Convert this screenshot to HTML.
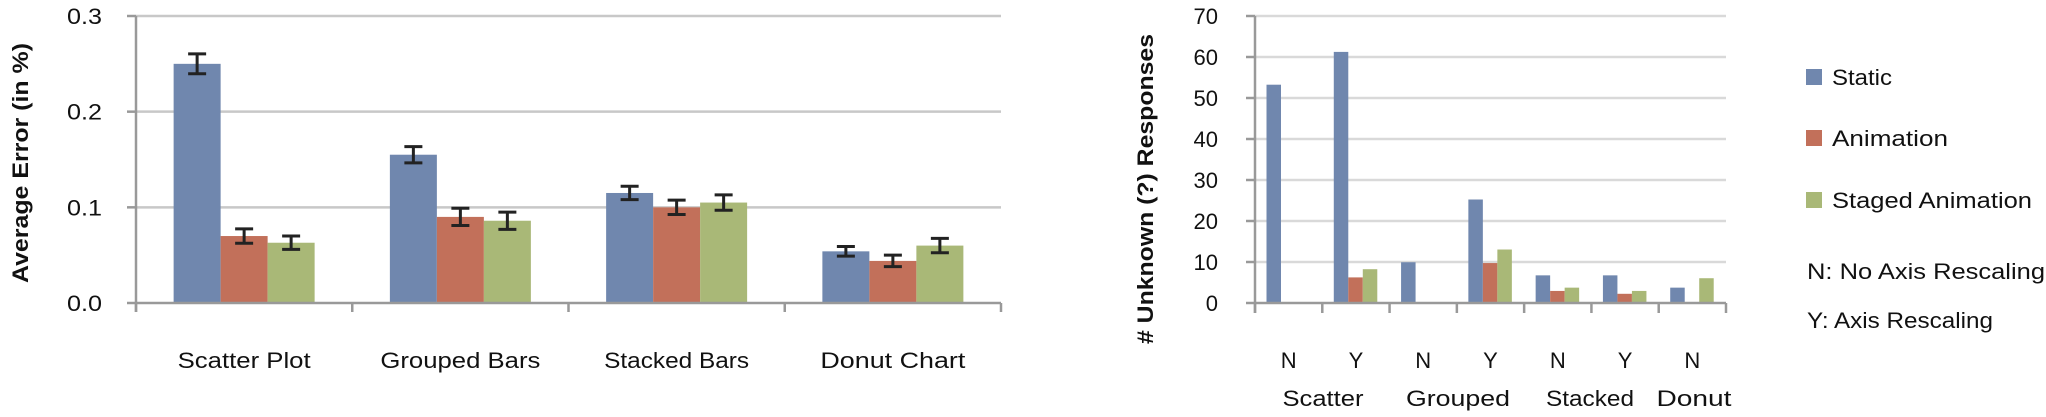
<!DOCTYPE html>
<html><head><meta charset="utf-8"><style>
html,body{margin:0;padding:0;background:#fff;}
svg{display:block;font-family:"Liberation Sans",sans-serif;}
</style></head><body>
<svg id="c" width="2046" height="417" viewBox="0 0 2046 417"></svg>
<script>
// Left chart data
const leftCategories = ["Scatter Plot","Grouped Bars","Stacked Bars","Donut Chart"];
const leftStatic = [0.25,0.155,0.115,0.054];
const leftAnimation = [0.07,0.09,0.1,0.044];
const leftStaged = [0.063,0.086,0.105,0.06];
const leftStaticErr = [0.0104,0.0085,0.007,0.005];
const leftAnimationErr = [0.0075,0.009,0.0075,0.006];
const leftStagedErr = [0.007,0.009,0.008,0.0075];
const leftTicks = ["0.0","0.1","0.2","0.3"];
const leftTickValues = [0,0.1,0.2,0.3];
// Right chart data
const rightRescale = ["N","Y","N","Y","N","Y","N"];
const rightGroups = ["Scatter","Grouped","Stacked","Donut"];
const rightStatic = [53,61,9.7,25,6.5,6.5,3.5];
const rightAnimation = [0,6,0,9.5,2.7,2,0];
const rightStaged = [0,8,0,12.8,3.5,2.7,5.8];
const rightTickValues = [0,10,20,30,40,50,60,70];
const seriesNames = ["Static","Animation","Staged Animation"];

const colors = ["#7087ae","#c2705a","#a9b877"];
const NS = "http://www.w3.org/2000/svg";
const svg = document.getElementById("c");
function mk(tag, attrs, parent){
  const e = document.createElementNS(NS, tag);
  for (const k in attrs) e.setAttribute(k, attrs[k]);
  (parent||svg).appendChild(e);
  return e;
}
function txt(s, attrs){ const t = mk("text", attrs); t.textContent = s; return t; }
const leftLabelW = [133,160,145,145];
const groupW = [81,104,88,75];

// ---------- Left chart ----------
const L = {x0:136, x1:1001, y0:303, y1:16, max:0.3};
function ly(v){ return L.y0 - (v/L.max)*(L.y0-L.y1); }
function lx(i){ return L.x0 + i*(L.x1-L.x0)/leftCategories.length; }
leftTickValues.forEach((v,i)=>{
  if (v>0){
    const g = mk("line",{x1:L.x0,x2:L.x1,y1:ly(v),y2:ly(v),stroke:"#c8c8c8","stroke-width":2.5});
    
    
  }
  const tk = mk("line",{x1:L.x0-9,x2:L.x0,y1:ly(v),y2:ly(v),stroke:"#999","stroke-width":2.5});
  
  
  const t = txt(leftTicks[i],{x:102,y:ly(v)+8,"text-anchor":"end","font-size":22,fill:"#111",textLength:35,lengthAdjust:"spacingAndGlyphs"});
  
  
});
const lseries = [[leftStatic,leftStaticErr],[leftAnimation,leftAnimationErr],[leftStaged,leftStagedErr]];
const lcw = (L.x1-L.x0)/leftCategories.length, lbw = 47, lpad = (lcw-3*lbw)/2;
leftCategories.forEach((c,i)=>{
  lseries.forEach((s,j)=>{
    const v = s[0][i], e = s[1][i];
    const x = lx(i)+lpad+j*lbw;
    const r = mk("rect",{x:x,y:ly(v),width:lbw,height:L.y0-ly(v),fill:colors[j]});
    
    
    const cx = x+lbw/2;
    const eg = mk("g",{stroke:"#222","stroke-width":3});
    
    
    mk("line",{x1:cx,x2:cx,y1:ly(v+e),y2:ly(v-e)},eg);
    mk("line",{x1:cx-9,x2:cx+9,y1:ly(v+e),y2:ly(v+e)},eg);
    mk("line",{x1:cx-9,x2:cx+9,y1:ly(v-e),y2:ly(v-e)},eg);
  });
  const t = txt(c,{x:lx(i)+lcw/2,y:368,"text-anchor":"middle","font-size":22,fill:"#111",textLength:leftLabelW[i],lengthAdjust:"spacingAndGlyphs"});
  
  
});
for (let i=0;i<=leftCategories.length;i++){
  const tk = mk("line",{x1:lx(i),x2:lx(i),y1:L.y0,y2:L.y0+9,stroke:"#999","stroke-width":2.5});
  
  
}
let a = mk("line",{x1:L.x0,x2:L.x0,y1:L.y1,y2:L.y0+9,stroke:"#999","stroke-width":2.5});
 
a = mk("line",{x1:L.x0,x2:L.x1,y1:L.y0,y2:L.y0,stroke:"#999","stroke-width":2.5});
 
let yt = txt("Average  Error  (in %)",{x:0,y:0,transform:"translate(28,163) rotate(-90)","text-anchor":"middle","font-size":22,"font-weight":"bold",fill:"#111",textLength:240,lengthAdjust:"spacingAndGlyphs"});
 

// ---------- Right chart ----------
const R = {x0:1255, x1:1726, y0:303, y1:16, max:70};
function ry(v){ return R.y0 - (v/R.max)*(R.y0-R.y1); }
const rcw = (R.x1-R.x0)/rightRescale.length;
function rx(i){ return R.x0 + i*rcw; }
rightTickValues.forEach(v=>{
  if (v>0){
    const g = mk("line",{x1:R.x0,x2:R.x1,y1:ry(v),y2:ry(v),stroke:"#d9d9d9","stroke-width":2.5});
     
  }
  const tk = mk("line",{x1:R.x0-9,x2:R.x0,y1:ry(v),y2:ry(v),stroke:"#999","stroke-width":2.5});
   
  const t = txt(String(v),{x:1218,y:ry(v)+8,"text-anchor":"end","font-size":22,fill:"#111"});
   
});
const rseries = [rightStatic,rightAnimation,rightStaged];
const rbw = 14.5, rpad = 11.5;
rightRescale.forEach((c,i)=>{
  rseries.forEach((s,j)=>{
    const v = s[i];
    const x = rx(i)+rpad+j*rbw;
    const r = mk("rect",{x:x,y:ry(v)-1,width:rbw,height:R.y0-ry(v)+1,fill:colors[j]});
    
    
  });
  const t = txt(c,{x:rx(i)+rcw/2,y:368,"text-anchor":"middle","font-size":22,fill:"#111"});
   
});
const groupCenters = [1323,1458,1590,1694];
rightGroups.forEach((g,i)=>{
  const t = txt(g,{x:groupCenters[i],y:406,"text-anchor":"middle","font-size":22,fill:"#111",textLength:groupW[i],lengthAdjust:"spacingAndGlyphs"});
   
});
for (let i=0;i<=rightRescale.length;i++){
  const tk = mk("line",{x1:rx(i),x2:rx(i),y1:R.y0,y2:R.y0+10,stroke:"#999","stroke-width":2.5});
   
}
a = mk("line",{x1:R.x0,x2:R.x0,y1:R.y1,y2:R.y0+10,stroke:"#999","stroke-width":2.5});
 
a = mk("line",{x1:R.x0,x2:R.x1,y1:R.y0,y2:R.y0,stroke:"#999","stroke-width":2.5});
 
yt = txt("# Unknown (?) Responses",{x:0,y:0,transform:"translate(1153,189) rotate(-90)","text-anchor":"middle","font-size":22,"font-weight":"bold",fill:"#111",textLength:310,lengthAdjust:"spacingAndGlyphs"});
 

// Legend
const legendY = [77,138,200];
const legendW = [60,116,200];
seriesNames.forEach((n,j)=>{
  const g = mk("g",{});
   
  mk("rect",{x:1806,y:legendY[j]-8,width:16,height:16,fill:colors[j]},g);
  const t = mk("text",{x:1832,y:legendY[j]+8,"font-size":22,fill:"#111",textLength:legendW[j],lengthAdjust:"spacingAndGlyphs"},g);
  t.textContent = n;
});
let n1 = txt("N: No Axis Rescaling",{x:1807,y:279,"font-size":22,fill:"#111",textLength:238,lengthAdjust:"spacingAndGlyphs"});
 
n1 = txt("Y: Axis Rescaling",{x:1807,y:328,"font-size":22,fill:"#111",textLength:186,lengthAdjust:"spacingAndGlyphs"});
 
</script>
</body></html>
